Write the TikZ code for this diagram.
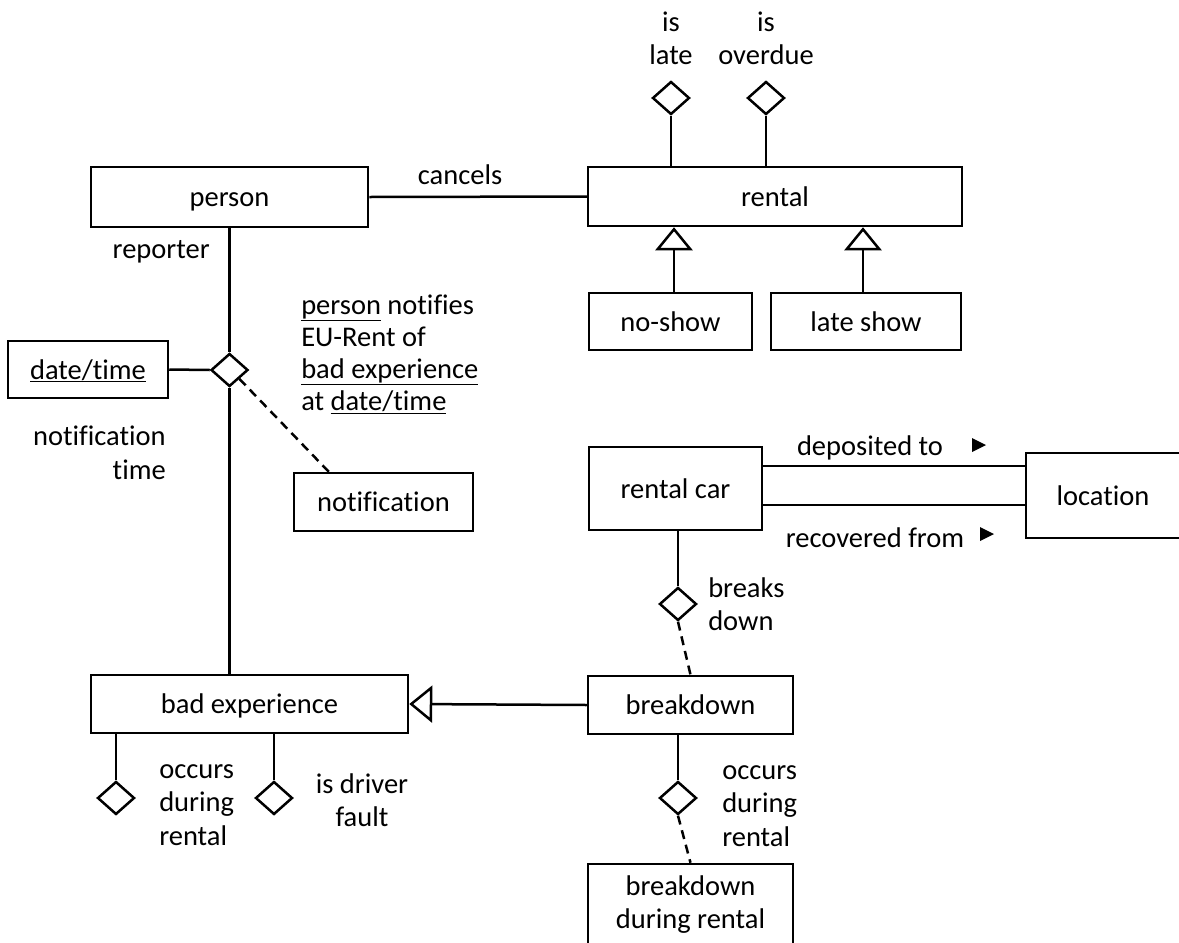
\documentclass[tikz,border=0pt]{standalone}
\usepackage{fontspec}
\setmainfont{Carlito}[Ligatures=CommonOff]
\usetikzlibrary{shapes.geometric,arrows.meta}
\tikzset{
  entbox/.style={draw, rectangle, inner sep=0pt, font=\fontsize{28.5}{33}\selectfont, align=center},
  ent/.style={entbox, text height=19pt, text depth=0pt},
  rel/.style={draw, diamond, inner sep=0pt, minimum width=37pt, minimum height=33pt},
  lbl/.style={inner sep=0pt, font=\fontsize{28.5}{33.5}\selectfont},
  gen/.style={-{Triangle[open, length=23pt, width=37pt]}},
  dotted link/.style={dash pattern=on 9pt off 6pt},
}
\begin{document}
\begin{tikzpicture}[x=1pt,y=1pt,yscale=-1,line width=2.5pt]
\path[use as bounding box, fill=white] (0,0) rectangle (1179,943);

% Entity boxes
\node[ent, minimum width=277pt, minimum height=60pt] (person) at (229.5,197) {person};
\node[ent, minimum width=374pt, minimum height=59pt] (rental) at (775,196.5) {rental};
\node[ent, minimum width=163pt, minimum height=57pt] (noshow) at (670.5,321.5) {no-show};
\node[ent, minimum width=190pt, minimum height=57pt] (lateshow) at (866,321.5) {late show};
\node[ent, minimum width=160pt, minimum height=57pt] (datetime) at (88,369.5) {\underline{date/time}};
\node[ent, minimum width=179pt, minimum height=58pt] (notification) at (383.5,502) {notification};
\node[ent, minimum width=173pt, minimum height=83pt] (rentalcar) at (675.5,488.5) {rental car};
\node[ent, minimum width=154pt, minimum height=85pt] (location) at (1103,495.5) {location};
\node[ent, minimum width=317pt, minimum height=58pt] (badexp) at (249.5,704) {bad experience};
\node[ent, minimum width=205pt, minimum height=58pt] (breakdown) at (690.5,705) {breakdown};
\node[entbox, minimum width=205pt, minimum height=82pt] (bdrental) at (690.5,905) {breakdown\\during rental};

% Fact type diamonds
\node[rel] (islate) at (671,98) {};
\node[rel] (isoverdue) at (766,98) {};
\node[rel] (notifies) at (229.5,370) {};
\node[rel] (breaksdown) at (678,604) {};
\node[rel] (occursbd) at (678,798) {};
\node[rel] (occursbx) at (116,798) {};
\node[rel] (driverfault) at (274,798) {};

% Labels
\node[lbl, align=center] (islatelbl) at (671,38.5) {is\\late};
\node[lbl, align=center] (isoverduelbl) at (766,38.5) {is\\overdue};
\node[lbl] (cancelslbl) at (460,175) {cancels};
\node[lbl, anchor=east] (reporterlbl) at (211,252) {reporter};
\node[lbl, anchor=east, align=right] (notiftimelbl) at (167,453) {notification\\time};
\node[lbl, anchor=west, align=left, font=\fontsize{28.5}{32}\selectfont] (notifieslbl) at (300,354)
  {\underline{person} notifies\\EU-Rent of\\\underline{bad experience}\\at \underline{date/time}};
\node[lbl] (depositedlbl) at (870,448) {deposited to};
\node[lbl] (recoveredlbl) at (875,538) {recovered from};
\node[lbl, anchor=west, align=left] (breakslbl) at (707,604) {breaks\\down};
\node[lbl, anchor=west, align=left] (occursbdlbl) at (721,806) {occurs\\during\\rental};
\node[lbl, anchor=west, align=left] (occursbxlbl) at (158,805) {occurs\\during\\rental};
\node[lbl, align=center] (driverlbl) at (362,800) {is driver\\fault};

% Reading direction marks
\fill (972,438) -- (986,445) -- (972,452) -- cycle;
\fill (980,527) -- (994,534) -- (980,541) -- cycle;

% Connectors
\draw (islate.south) -- (islate.south |- rental.north);
\draw (isoverdue.south) -- (isoverdue.south |- rental.north);
\draw (person.east) -- (rental.west);
\draw[gen] ([xshift=3.5pt]noshow.north) -- ([xshift=3.5pt]noshow.north |- rental.south);
\draw[gen] ([xshift=-3pt]lateshow.north) -- ([xshift=-3pt]lateshow.north |- rental.south);
\draw (person.south) -- (notifies.north);
\draw (datetime.east) -- (notifies.west);
\draw (notifies.south) -- (notifies.south |- badexp.north);
\draw[dotted link] (notifies.south east) -- ([xshift=36pt]notification.north west);
\draw ([yshift=16.5pt]rentalcar.east) -- ([yshift=16.5pt]rentalcar.east -| location.west);
\draw ([yshift=-22.5pt]rentalcar.east) -- ([yshift=-22.5pt]rentalcar.east -| location.west);
\draw (breaksdown.north) -- (breaksdown.north |- rentalcar.south);
\draw[dotted link] (breaksdown.south) -- (breakdown.north);
\draw[gen] (breakdown.west) -- (badexp.east);
\draw (occursbx.north) -- (occursbx.north |- badexp.south);
\draw (driverfault.north) -- (driverfault.north |- badexp.south);
\draw (occursbd.north) -- (occursbd.north |- breakdown.south);
\draw[dotted link] (occursbd.south) -- (bdrental.north);
\end{tikzpicture}
\end{document}
